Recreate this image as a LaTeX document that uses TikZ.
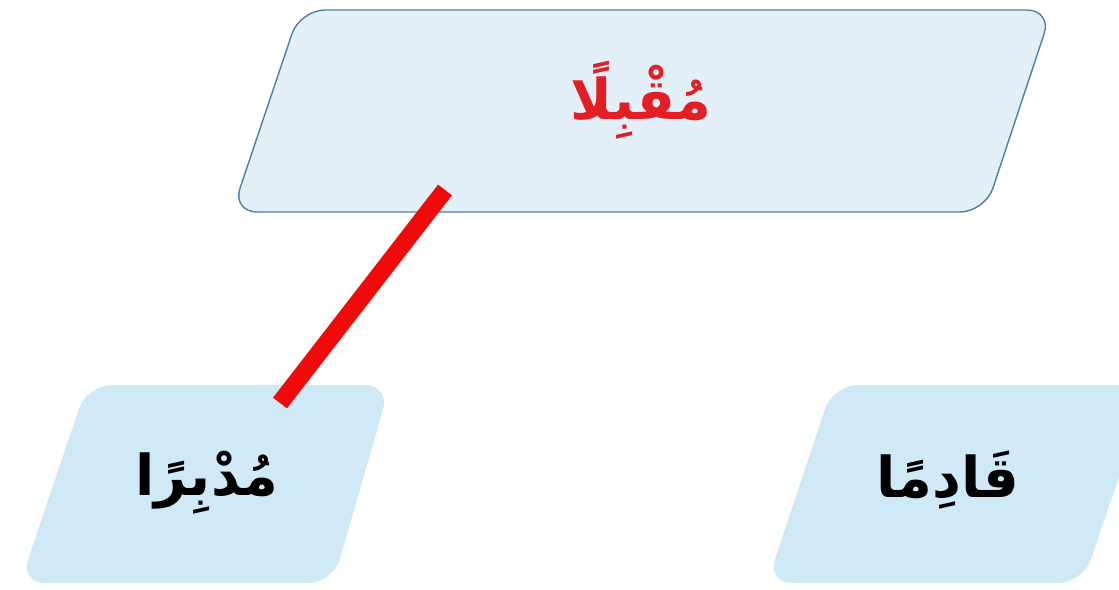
\documentclass[tikz,border=0pt]{standalone}
\usepackage{fontspec}
\newfontfamily\arabicfont[Script=Arabic]{DejaVu Sans}
\TeXXeTstate=1
\usetikzlibrary{calc}
\definecolor{boxtop}{HTML}{E3F0F8}
\definecolor{boxline}{HTML}{4F81A6}
\definecolor{boxlow}{HTML}{CFE9F6}
\definecolor{wordred}{HTML}{E31E24}
\definecolor{linkred}{HTML}{F00A0A}
\tikzset{
  topbox/.style={fill=boxtop,draw=boxline,line width=.8pt,rounded corners=.5cm},
  lowbox/.style={fill=boxlow,rounded corners=.5cm},
  word/.style={font=\arabicfont\bfseries\fontsize{32}{38}\selectfont,inner sep=0pt},
  link/.style={draw=linkred,line width=10pt}
}

\begin{document}
\begin{tikzpicture}[x=.02cm,y=-.02cm]
\useasboundingbox (0,0) rectangle (1119,590);
% boxes
\draw[topbox] (300,10) -- (1052,10) -- (985,212) -- (232,212) -- cycle;
\fill[lowbox] (87,385) -- (390,385) -- (333,583) -- (20,583) -- cycle;
\fill[lowbox] (833,385) -- (1150,385) -- (1083,583) -- (767,583) -- cycle;
% words
\node[word,text=wordred] (muqbil) at (641,100) {\beginR مُقْبِلًا\endR};
\node[word] (mudbir) at (207,483) {\beginR مُدْبِرًا\endR};
\node[word] (qadim) at (948,480) {\beginR قَادِمًا\endR};
% answer line
\coordinate (linkA) at (445,190);
\coordinate (linkB) at (280,403);
\draw[link] (linkA) -- (linkB);
\end{tikzpicture}
\end{document}
